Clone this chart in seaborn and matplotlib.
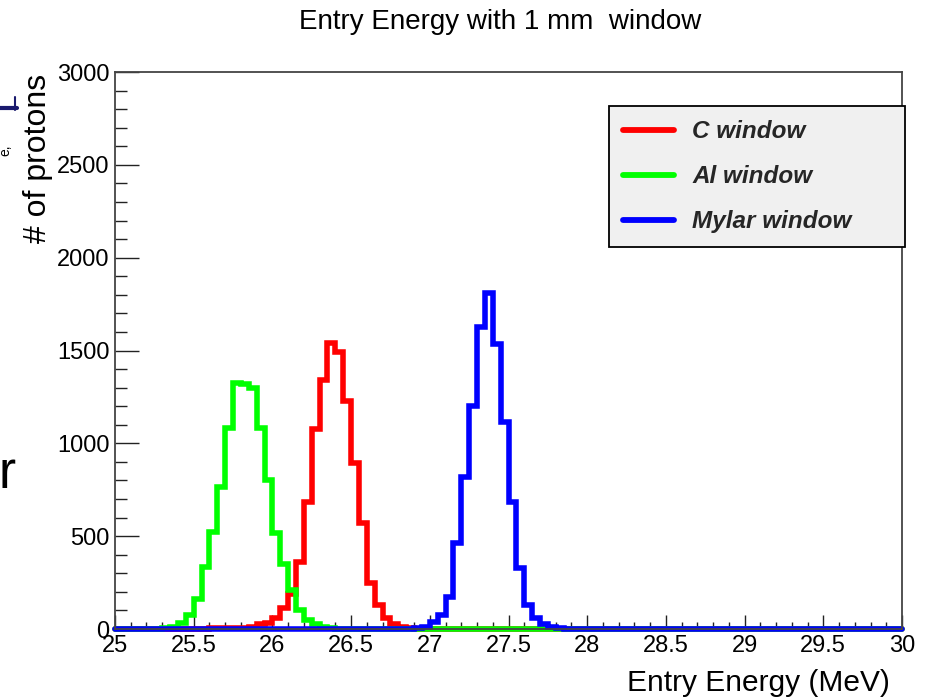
import numpy as np
import pandas as pd
import matplotlib
matplotlib.use("Agg")
import matplotlib.pyplot as plt
import seaborn as sns
from matplotlib.lines import Line2D
from matplotlib.ticker import MultipleLocator, FuncFormatter
from matplotlib.font_manager import FontProperties

# ---------------- data (100 bins of 0.05 MeV from 25 to 30 MeV) ----------------
energy_min = 25.0
energy_max = 30.0
n_bins = 100

c_window = [
    0, 0, 0, 2, 2, 0, 0, 0, 0, 0,
    0, 2, 3, 5, 5, 5, 5, 10, 25, 30,
    59, 113, 190, 363, 686, 1075, 1341, 1542, 1494, 1230,
    892, 573, 246, 129, 57, 27, 12, 3, 0, 0,
    0, 0, 0, 0, 0, 0, 0, 0, 0, 0,
    0, 0, 0, 0, 0, 0, 0, 0, 0, 0,
    0, 0, 0, 0, 0, 0, 0, 0, 0, 0,
    0, 0, 0, 0, 0, 0, 0, 0, 0, 0,
    0, 0, 0, 0, 0, 0, 0, 0, 0, 0,
    0, 0, 0, 0, 0, 0, 0, 0, 0, 0,
]
al_window = [
    0, 0, 0, 0, 0, 0, 3, 12, 35, 75,
    160, 336, 520, 766, 1081, 1323, 1318, 1296, 1085, 802,
    515, 352, 210, 100, 48, 25, 12, 5, 0, 0,
    0, 0, 0, 0, 0, 0, 0, 0, 0, 0,
    0, 0, 0, 0, 0, 0, 0, 0, 0, 0,
    0, 0, 0, 0, 0, 0, 0, 0, 0, 0,
    0, 0, 0, 0, 0, 0, 0, 0, 0, 0,
    0, 0, 0, 0, 0, 0, 0, 0, 0, 0,
    0, 0, 0, 0, 0, 0, 0, 0, 0, 0,
    0, 0, 0, 0, 0, 0, 0, 0, 0, 0,
]
mylar_window = [
    0, 0, 0, 0, 0, 0, 0, 0, 0, 0,
    0, 0, 0, 0, 0, 0, 0, 0, 0, 0,
    0, 0, 0, 0, 0, 0, 0, 0, 0, 0,
    0, 0, 0, 0, 0, 0, 0, 0, 3, 12,
    40, 75, 175, 465, 817, 1200, 1628, 1808, 1533, 1117,
    686, 327, 129, 60, 25, 10, 3, 0, 0, 0,
    0, 0, 0, 0, 0, 0, 0, 0, 0, 0,
    0, 0, 0, 0, 0, 0, 0, 0, 0, 0,
    0, 0, 0, 0, 0, 0, 0, 0, 0, 0,
    0, 0, 0, 0, 0, 0, 0, 0, 0, 0,
]

series_labels = ["C window", "Al window", "Mylar window"]
series_colors = ["#ff0000", "#00ff00", "#0000ff"]
series_values = [c_window, al_window, mylar_window]

title_text = "Entry Energy with 1 mm  window"
x_label = "Entry Energy (MeV)"
y_label = "# of protons"

# ---------------- figure ----------------
sns.set_theme(style="ticks")
plt.rcParams["font.family"] = ["Liberation Sans", "DejaVu Sans"]

edges = np.linspace(energy_min, energy_max, n_bins + 1)
centers = 0.5 * (edges[:-1] + edges[1:])
df = pd.DataFrame({"energy": centers})
for lab, vals in zip(series_labels, series_values):
    df[lab] = np.asarray(vals, dtype=float)

fig = plt.figure(figsize=(9.29, 6.99), dpi=100)
fig.patch.set_facecolor("white")
ax = fig.add_axes([115 / 929, 1 - 629 / 699, 787 / 929, 557 / 699])
ax.set_facecolor("white")

for lab, col in zip(series_labels, series_colors):
    sns.histplot(data=df, x="energy", weights=lab, bins=n_bins,
                 binrange=(energy_min, energy_max), element="step",
                 fill=False, color=col, linewidth=4.0, ax=ax)
for ln in ax.lines:
    ln.set_clip_on(False)
    ln.set_solid_joinstyle("miter")

ax.set_xlim(energy_min, energy_max)
ax.set_ylim(0, 3000)

ax.xaxis.set_major_locator(MultipleLocator(0.5))
ax.xaxis.set_minor_locator(MultipleLocator(0.1))
ax.yaxis.set_major_locator(MultipleLocator(500))
ax.yaxis.set_minor_locator(MultipleLocator(100))
ax.xaxis.set_major_formatter(FuncFormatter(lambda v, p: f"{v:g}"))
ax.yaxis.set_major_formatter(FuncFormatter(lambda v, p: f"{v:g}"))

ax.tick_params(axis="x", which="major", direction="in", length=10, width=1.0,
               color="#222222", labelsize=17, pad=4, labelcolor="black")
ax.tick_params(axis="x", which="minor", direction="in", length=5, width=1.0, color="#222222")
ax.tick_params(axis="y", which="major", direction="in", length=17, width=1.0,
               color="#222222", labelsize=17, pad=4, labelcolor="black")
ax.tick_params(axis="y", which="minor", direction="in", length=8.5, width=1.0, color="#222222")

for sp in ax.spines.values():
    sp.set_visible(True)
    sp.set_color("#444444")
    sp.set_linewidth(1.3)

ax.set_xlabel(x_label, fontsize=21.5, loc="right", color="black")
ax.xaxis.set_label_coords((890 - 115) / 787, (629 - 669) / 557)
ax.xaxis.label.set_verticalalignment("top")
ax.set_ylabel(y_label, fontsize=23, loc="top", color="black")
ax.yaxis.set_label_coords((53 - 115) / 787, (629 - 74) / 557)

fig.text(500 / 929, 1 - 22 / 699, title_text, ha="center", va="center",
         fontsize=20, color="black")

# legend
handles = [Line2D([], [], color=c, linewidth=4.2) for c in series_colors]
leg = ax.legend(handles, series_labels, loc="upper left",
                bbox_to_anchor=((609 - 115) / 787, (629 - 245) / 557,
                                (905 - 609) / 787, (245 - 106) / 557),
                mode="expand", borderaxespad=0, frameon=True, fancybox=False,
                framealpha=1, facecolor="#f0f0f0", edgecolor="black",
                prop=FontProperties(family="Liberation Sans", weight="bold",
                                    style="italic", size=17.5),
                handlelength=2.1, handletextpad=0.75, labelspacing=0.91,
                borderpad=0.58)
leg.get_frame().set_linewidth(1.3)

# cropped slide remnants at the left edge
fig.text(-0.002, 1 - 488 / 699, "r", fontsize=37, color="black", va="baseline")
fig.text(0.006, 1 - 150 / 699, "e,", fontsize=10, color="black", rotation=90,
         ha="center", va="center")
fig.add_artist(Line2D([0, 17 / 929], [1 - 108 / 699, 1 - 108 / 699],
                      transform=fig.transFigure, color="#1a1a6e", linewidth=3))
fig.add_artist(Line2D([15 / 929, 15 / 929], [1 - 97 / 699, 1 - 110 / 699],
                      transform=fig.transFigure, color="#1a1a6e", linewidth=1.5))

fig.savefig("out.png", dpi=100, facecolor="white")
